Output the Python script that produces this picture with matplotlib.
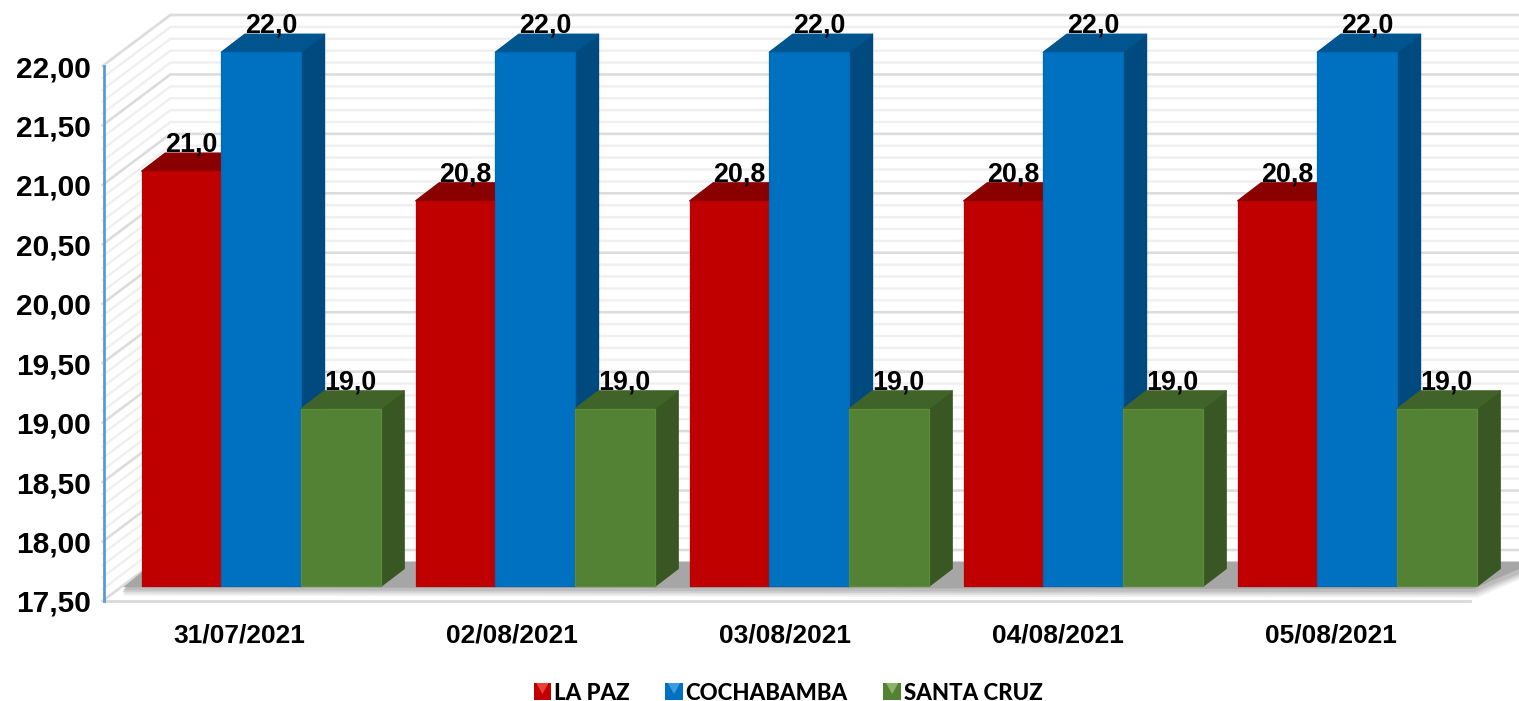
import numpy as np
from matplotlib import pyplot as plt
from matplotlib.legend_handler import HandlerBase
from matplotlib.patches import Patch, Polygon, Rectangle

dates = ['31/07/2021', '02/08/2021', '03/08/2021', '04/08/2021', '05/08/2021']
la_paz = [21.0, 20.75, 20.75, 20.75, 20.75]
cochabamba = [22.0, 22.0, 22.0, 22.0, 22.0]
santa_cruz = [19.0, 19.0, 19.0, 19.0, 19.0]

names = ['LA PAZ', 'COCHABAMBA', 'SANTA CRUZ']
front_colors = ['#c00000', '#0070c0', '#548235']
top_colors = ['#8a0000', '#00558f', '#3f6329']
side_colors = ['#7a0000', '#004a80', '#385723']
edge_colors = ['#b80000', '#0069b6', '#5c8b3a']
light_colors = ['#e8413c', '#3d9be0', '#8db368']

# depth of the fake 3d box, in data units
wall_dx = 0.249
wall_dy = 0.429
plane_dx = 0.0795
plane_dy = 0.122
bar_dx = 0.086
bar_dy = 0.151
bar_w = 0.2917
spacing = 274 / 273

y_min = 17.5
y_max = 22.0


class CubeHandler(HandlerBase):
    def create_artists(self, legend, orig, xdescent, ydescent, width, height, fontsize, trans):
        c = orig.get_facecolor()
        l = orig.get_edgecolor()
        s = Rectangle((0, 0), width, height, facecolor=c, edgecolor='none', transform=trans)
        t = Polygon([(2, height), (width - 2, height), (width / 2, height * 0.35)],
                    facecolor=l, edgecolor='none', transform=trans)
        return [s, t]


plt.rcParams['font.family'] = ['Liberation Sans', 'DejaVu Sans']
fig = plt.figure(figsize=(15.19, 7.01), dpi=100)
ax = fig.add_axes([102.5 / 1519, 100 / 701, 1365 / 1519, 535 / 701])
ax.set_xlim(0, 5)
ax.set_ylim(y_min, y_max)
for s in ax.spines.values():
    s.set_visible(False)

# walls
levels = np.round(np.arange(y_min, y_max + 0.01, 0.1), 1)
for v in levels:
    major = abs(v * 2 - round(v * 2)) < 1e-6
    col = '#dcdcdc' if major else '#efefef'
    lw = 1.9 if major else 1.7
    z = 1.2 if major else 1
    ax.plot([0, wall_dx, 5 + wall_dx], [v, v + wall_dy, v + wall_dy], color=col, lw=lw,
            clip_on=False, zorder=z, solid_joinstyle='miter')

# floor shadow, soft strips under the grey part
for drop, col in [(0.07, '#f0f0f0'), (0.055, '#e0e0e0'), (0.04, '#cfcfcf'), (0.025, '#bdbdbd')]:
    ax.add_patch(Polygon([(0.075, y_min + 0.115 - drop), (5.02 + drop / 4, y_min + 0.1 - drop), (5 + wall_dx, y_min + 0.31 - drop), (5 + wall_dx, y_min + 0.33), (0.19, y_min + 0.33)],
                         facecolor=col, edgecolor='none', clip_on=False, zorder=2))
ax.add_patch(Polygon([(0.075, y_min + 0.115), (5.02, y_min + 0.1), (5 + wall_dx, y_min + 0.33), (0.19, y_min + 0.33)],
                     facecolor='#a6a6a6', edgecolor='none', clip_on=False, zorder=2))

ax.plot([0.005, 5.009], [y_min, y_min], color='#d9d9d9', lw=2, clip_on=False, zorder=2)
ax.plot([0.005, 0.005], [y_min, y_max], color='#5b9bd5', lw=2, clip_on=False, zorder=6)

# bars
series = [la_paz, cochabamba, santa_cruz]
base = y_min + plane_dy
zo = 3
for i in range(len(dates)):
    centre = (i + 0.5) * spacing + plane_dx
    for k, values in enumerate(series):
        v = values[i]
        left = centre + (k - 1.5) * bar_w
        right = left + bar_w
        top = v + plane_dy - 0.006
        ax.add_patch(Polygon([(right, base), (right + bar_dx, base + bar_dy), (right + bar_dx, top + bar_dy), (right, top)],
                             facecolor=side_colors[k], edgecolor=side_colors[k], lw=1, joinstyle='round',
                             clip_on=False, zorder=zo))
        ax.add_patch(Polygon([(left, top), (left + bar_dx, top + bar_dy), (right + bar_dx, top + bar_dy), (right, top)],
                             facecolor=top_colors[k], edgecolor=top_colors[k], lw=1, joinstyle='round',
                             clip_on=False, zorder=zo))
        ax.bar(left, top - base, bar_w, bottom=base, align='edge', color=front_colors[k],
               edgecolor=edge_colors[k], linewidth=0.9, joinstyle='round', clip_on=False, zorder=zo + 0.5)
        ax.text((left + right) / 2 + bar_dx * 0.42, top + bar_dy + 0.014, f'{v:.1f}'.replace('.', ','),
                ha='center', va='baseline', fontsize=19.4, fontweight='bold', color='black',
                clip_on=False, zorder=20)
        zo += 1

ax.set_xticks(np.arange(len(dates)) + 0.5)
ax.set_xticklabels(dates, fontsize=19, fontweight='bold')
ax.set_yticks(np.arange(y_min, y_max + 0.01, 0.5))
ax.set_yticklabels([f'{v:.2f}'.replace('.', ',') for v in np.arange(y_min, y_max + 0.01, 0.5)],
                   fontsize=21.5, fontweight='bold')
ax.tick_params(axis='x', length=0, pad=16)
ax.tick_params(axis='y', length=0, pad=8.5)

handles = [Patch(facecolor=front_colors[k], edgecolor=light_colors[k], label=names[k]) for k in range(3)]
leg = fig.legend(handles=handles, loc='center', bbox_to_anchor=(788 / 1519, 7.5 / 701), ncol=3, frameon=False,
                 handler_map={Patch: CubeHandler()}, handlelength=0.8, handleheight=0.8, handletextpad=0.12,
                 columnspacing=1.6, borderpad=0,
                 prop={'family': 'Lato', 'weight': 900, 'size': 16})

fig.savefig('out.png', dpi=100)
